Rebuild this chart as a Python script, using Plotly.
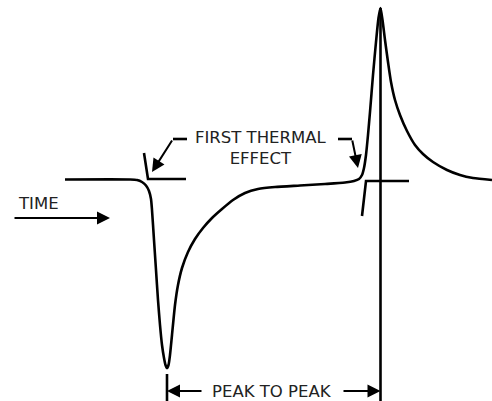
import plotly.graph_objects as go

# Thermal response curve (schematic): x = time, y = signal (pixel-like units, inverted axis)
curve_x = [65, 130, 137, 142, 146, 149, 151, 152, 154, 156, 158, 160, 162, 164, 165.5, 167, 168.5, 170, 172,
           175, 178, 182, 188, 195, 203, 212, 222, 233, 245, 258, 275, 300, 325, 345, 354, 359, 362, 364,
           366, 368, 370, 373, 376, 378.5, 380.5, 382.5, 385, 388, 391, 395, 400, 407, 415, 423, 433, 447,
           460, 473, 492]
curve_y = [179.5, 179.5, 180, 182, 185.5, 191, 199, 210, 240, 270, 300, 325, 345, 358, 365, 368, 365, 355, 335,
           305, 285, 268, 252, 239, 228, 218, 209, 200, 193, 189, 187, 185.5, 184, 182.5, 181, 179, 175, 168,
           155, 135, 112, 75, 42, 18, 8, 20, 40, 62, 82, 100, 115, 131, 145, 154, 162, 170,
           175, 178, 180]

# Tangent construction lines at the two thermal effects
tangent1_x = [144, 148, 186]
tangent1_y = [153, 179, 179]
tangent2_x = [362, 366, 409]
tangent2_y = [216, 181, 181]

# Peak markers
peak1_x = [167, 167]
peak1_y = [374, 401]
peak2_x = [380.5, 380.5]
peak2_y = [8, 401]

# Leader lines for "FIRST THERMAL EFFECT"
leader1_x = [187, 173]
leader1_y = [139, 139]
leader2_x = [338, 352]
leader2_y = [139, 139]

labels = ["FIRST THERMAL<br>EFFECT", "TIME", "PEAK TO PEAK"]
label_x = [261, 38, 272]
label_y = [148, 203, 391]

FONT = "DejaVu Sans"
LW = 2.6

fig = go.Figure()
line_style = dict(color="black", width=LW)
fig.add_trace(go.Scatter(x=curve_x, y=curve_y, mode="lines", line=dict(color="black", width=LW, shape="spline", smoothing=0.6)))
for xs, ys in [(tangent1_x, tangent1_y), (tangent2_x, tangent2_y), (peak1_x, peak1_y), (peak2_x, peak2_y),
               (leader1_x, leader1_y), (leader2_x, leader2_y)]:
    fig.add_trace(go.Scatter(x=xs, y=ys, mode="lines", line=line_style))

# Text labels
for t, x, y in zip(labels, label_x, label_y):
    fig.add_annotation(x=x, y=y, text=t, showarrow=False, font=dict(family=FONT, size=16.5, color="#222"),
                       xref="x", yref="y")

# Arrows: (tip_x, tip_y, tail_x, tail_y)
arrows = [
    (152, 172, 173, 139),
    (358, 168, 352, 139),
    (110, 218, 13, 218),
    (167, 391, 203, 391),
    (380.5, 391, 342, 391),
]
for tx, ty, sx, sy in arrows:
    fig.add_annotation(x=tx, y=ty, ax=sx, ay=sy, xref="x", yref="y", axref="x", ayref="y",
                       showarrow=True, arrowhead=2, arrowsize=1.3, arrowwidth=2, arrowcolor="black", text="")

fig.update_layout(
    width=492, height=401, margin=dict(l=0, r=0, t=0, b=0),
    paper_bgcolor="white", plot_bgcolor="white", showlegend=False,
    xaxis=dict(range=[0, 492], visible=False, fixedrange=True),
    yaxis=dict(range=[401, 0], visible=False, fixedrange=True),
)
fig.write_html("out.html", config={"displayModeBar": False},
               post_script="document.body.style.margin='0';document.body.style.overflow='hidden';")
